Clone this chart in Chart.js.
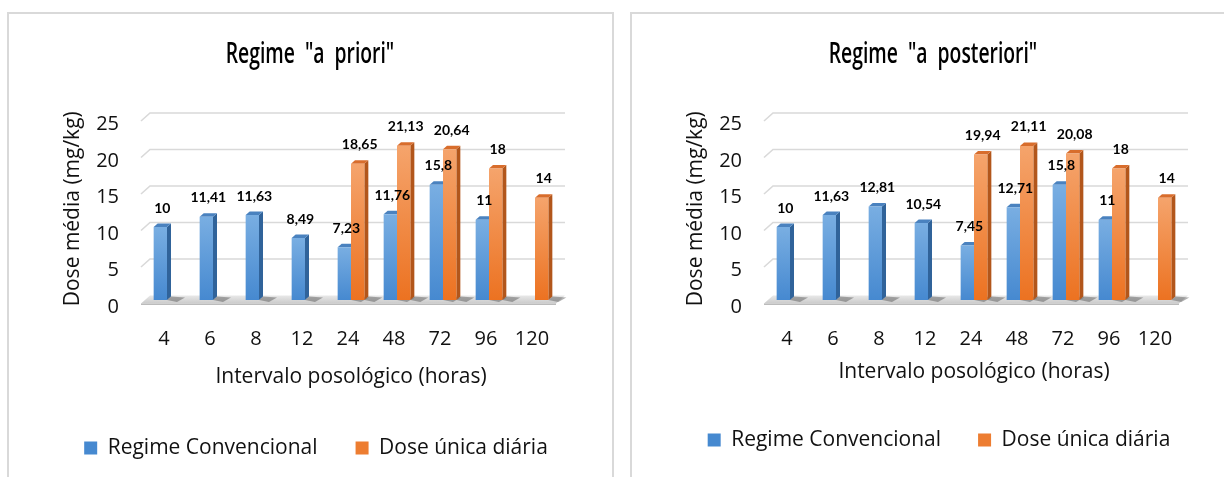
<!DOCTYPE html>
<html>
<head>
<meta charset="utf-8">
<script src="https://cdn.jsdelivr.net/npm/chart.js@4.4.1/dist/chart.umd.min.js"></script>
<style>
  html, body { margin: 0; padding: 0; background: #fff; width: 1224px; height: 477px; overflow: hidden; }
  .panel { position: absolute; top: 12px; height: 480px; border: 2px solid #d9d9d9; border-bottom: none; box-sizing: border-box; }
  #p1 { left: 7px; width: 607px; }
  #p2 { left: 630px; width: 607px; }
  canvas { position: absolute; top: 0; }
  #c1 { left: 0; }
  #c2 { left: 623px; }
</style>
</head>
<body>
<div class="panel" id="p1"></div>
<div class="panel" id="p2"></div>
<canvas id="c1" width="620" height="477"></canvas>
<canvas id="c2" width="601" height="477"></canvas>
<script>
// Dosing interval categories (hours) and the value axis ticks
const categories = ['4', '6', '8', '12', '24', '48', '72', '96', '120'];
const yTicks = [0, 5, 10, 15, 20, 25];
const seriesNames = ['Regime Convencional', 'Dose única diária'];

// Mean dose (mg/kg), "a priori" regimen
const prioriConvencional = [10, 11.41, 11.63, 8.49, 7.23, 11.76, 15.8, 11, null];
const prioriDoseUnica    = [null, null, null, null, 18.65, 21.13, 20.64, 18, 14];

// Mean dose (mg/kg), "a posteriori" regimen
const posterioriConvencional = [10, 11.63, 12.81, 10.54, 7.45, 12.71, 15.8, 11, null];
const posterioriDoseUnica    = [null, null, null, null, 19.94, 21.11, 20.08, 18, 14];

const BODY = "'Open Sans', 'Noto Sans', sans-serif";
const LABEL_FONT = "bold 14px Lato, 'Open Sans', sans-serif";
const HEADING_FONT = "600 28px 'Open Sans', sans-serif";
const INK = '#111111';

const BLUE   = { light: '#79aee2', dark: '#4689d0', solid: '#5b9bd5', side: '#30639a', top: '#4a82bf' };
const ORANGE = { light: '#f5a46c', dark: '#ec7221', solid: '#ed7d31', side: '#b2561b', top: '#d86d2c' };

const DX = 4, DY = 3.5;   // depth of the extruded faces

function frontFill(tone) {
  return (c) => {
    const ys = c.chart.scales && c.chart.scales.y;
    if (c.type !== 'data' || !ys || c.raw == null) return tone.solid;
    const top = ys.getPixelForValue(c.raw), bot = ys.getPixelForValue(0);
    if (!isFinite(top) || !isFinite(bot)) return tone.solid;
    const g = c.chart.ctx.createLinearGradient(0, top, 0, bot);
    g.addColorStop(0, tone.light);
    g.addColorStop(1, tone.dark);
    return g;
  };
}

const fmt = (v) => String(v).replace('.', ',');

// Condensed heading above the plot
const heading = {
  id: 'heading',
  afterDraw(chart, args, opts) {
    const { ctx } = chart;
    ctx.save();
    ctx.font = HEADING_FONT;
    ctx.fillStyle = '#000';
    ctx.textAlign = 'center';
    ctx.textBaseline = 'alphabetic';
    ctx.translate(opts.x, opts.y);
    ctx.scale(0.69, 1);
    ctx.fillText(opts.text, 0, 0);
    ctx.restore();
  }
};

// Back wall gridlines, floor slab, side/top faces behind the bar fronts; value labels on top
const scene3d = {
  id: 'scene3d',
  beforeDatasetsDraw(chart) {
    const { ctx, chartArea: a } = chart;
    const ys = chart.scales.y;
    ctx.save();

    ctx.strokeStyle = '#d9d9d9';
    ctx.lineWidth = 1.6;
    yTicks.forEach((v) => {
      if (v === 0) return;
      const p = ys.getPixelForValue(v);
      ctx.beginPath();
      ctx.moveTo(a.left - 3, p + 3.5);
      ctx.lineTo(a.left + 6, p - 4.5);
      ctx.lineTo(a.right + 7, p - 4.5);
      ctx.stroke();
    });

    const f = ys.getPixelForValue(0);
    const back = f - 4.5, front = f + 3.5;
    ctx.beginPath();
    ctx.moveTo(a.left + 6, back);
    ctx.lineTo(a.right + 7, back);
    ctx.lineTo(a.right - 2, front);
    ctx.lineTo(a.left - 3, front);
    ctx.closePath();
    const fg = ctx.createLinearGradient(0, back, 0, front);
    fg.addColorStop(0, '#e8e8e8');
    fg.addColorStop(1, '#cbcbcb');
    ctx.fillStyle = fg;
    ctx.fill();
    ctx.fillStyle = '#bbbbbb';
    ctx.fillRect(a.left - 3, front, a.right - a.left + 1, 1.5);

    chart.data.datasets.forEach((ds, di) => {
      const meta = chart.getDatasetMeta(di);
      meta.data.forEach((bar, i) => {
        if (ds.data[i] == null) return;
        const { x, y, base, width } = bar.getProps(['x', 'y', 'base', 'width'], true);
        const x0 = x - width / 2, x1 = x + width / 2;
        // shadow cast on the floor
        ctx.fillStyle = 'rgba(60,60,60,0.4)';
        ctx.beginPath();
        ctx.moveTo(x1, base);
        ctx.lineTo(x1 + DX, base - DY);
        ctx.lineTo(x1 + DX + 14, base - DY + 1);
        ctx.lineTo(x1 + 10, base + 2);
        ctx.closePath();
        ctx.fill();
        // side face
        ctx.fillStyle = ds.faces.side;
        ctx.beginPath();
        ctx.moveTo(x1, y);
        ctx.lineTo(x1 + DX, y - DY);
        ctx.lineTo(x1 + DX, base - DY);
        ctx.lineTo(x1, base);
        ctx.closePath();
        ctx.fill();
        // top face
        ctx.fillStyle = ds.faces.top;
        ctx.beginPath();
        ctx.moveTo(x0, y);
        ctx.lineTo(x1, y);
        ctx.lineTo(x1 + DX, y - DY);
        ctx.lineTo(x0 + DX, y - DY);
        ctx.closePath();
        ctx.fill();
      });
    });
    ctx.restore();
  },
  afterDatasetsDraw(chart) {
    const { ctx } = chart;
    ctx.save();
    ctx.font = LABEL_FONT;
    ctx.fillStyle = '#000';
    ctx.textAlign = 'center';
    ctx.textBaseline = 'middle';
    chart.data.datasets.forEach((ds, di) => {
      const meta = chart.getDatasetMeta(di);
      meta.data.forEach((bar, i) => {
        const v = ds.data[i];
        if (v == null) return;
        const { x, y } = bar.getProps(['x', 'y'], true);
        ctx.fillText(fmt(v), x + DX / 2, y - 19);
      });
    });
    ctx.restore();
  }
};

function buildChart(canvasId, titleText, convValues, doseValues, frame) {
  return new Chart(document.getElementById(canvasId), {
    type: 'bar',
    data: {
      labels: categories,
      datasets: [
        { label: seriesNames[0], data: convValues, backgroundColor: frontFill(BLUE), borderWidth: 0, faces: BLUE },
        { label: seriesNames[1], data: doseValues, backgroundColor: frontFill(ORANGE), borderWidth: 0, faces: ORANGE }
      ]
    },
    options: {
      responsive: false,
      animation: false,
      events: [],
      layout: { padding: { left: frame.left, right: 0, top: 117.5, bottom: frame.bottom } },
      datasets: { bar: { categoryPercentage: 0.58, barPercentage: 1 } },
      scales: {
        x: {
          grid: { display: false },
          border: { display: false },
          ticks: { font: { family: BODY, size: 20 }, color: INK, padding: 19, labelOffset: -3, maxRotation: 0, autoSkip: false },
          title: { display: true, text: 'Intervalo posológico (horas)', font: { family: BODY, size: 21 }, color: INK, padding: { top: 0, bottom: frame.xTitlePad } },
          afterFit: (s) => { s.height = frame.xAxisHeight; }
        },
        y: {
          min: 0,
          max: 25,
          afterBuildTicks: (s) => { s.ticks = yTicks.map((v) => ({ value: v })); },
          grid: { display: false },
          border: { display: false },
          ticks: { font: { family: BODY, size: 20 }, color: INK, padding: 17, labelOffset: 7, autoSkip: false },
          title: { display: true, text: 'Dose média (mg/kg)', font: { family: BODY, size: 21 }, color: INK, padding: { top: 73 - frame.left - 12.6, bottom: 0 } },
          afterFit: (s) => { s.width = 144 - frame.left; }
        },
        // empty right-hand margin that leaves room for the extruded depth
        depth: {
          type: 'linear',
          position: 'right',
          min: 0,
          max: 1,
          grid: { display: false },
          border: { display: false },
          ticks: { display: false },
          afterFit: (s) => { s.width = frame.rightMargin; }
        }
      },
      plugins: {
        title: { display: false },
        heading: { text: titleText, x: 310, y: 63 },
        legend: {
          position: 'bottom',
          labels: { font: { family: BODY, size: 21 }, color: INK, boxWidth: 13, boxHeight: 13, padding: frame.legendGap }
        },
        tooltip: { enabled: false }
      }
    },
    plugins: [scene3d, heading]
  });
}

buildChart('c1', 'Regime  "a  priori"', prioriConvencional, prioriDoseUnica,
  { left: 12, rightMargin: 62, bottom: 8.5, xAxisHeight: 99.5, xTitlePad: 9.9, legendGap: 38 });
buildChart('c2', 'Regime  "a  posteriori"', posterioriConvencional, posterioriDoseUnica,
  { left: 31, rightMargin: 43, bottom: 16.5, xAxisHeight: 92.5, xTitlePad: 7.9, legendGap: 37 });
</script>
</body>
</html>
